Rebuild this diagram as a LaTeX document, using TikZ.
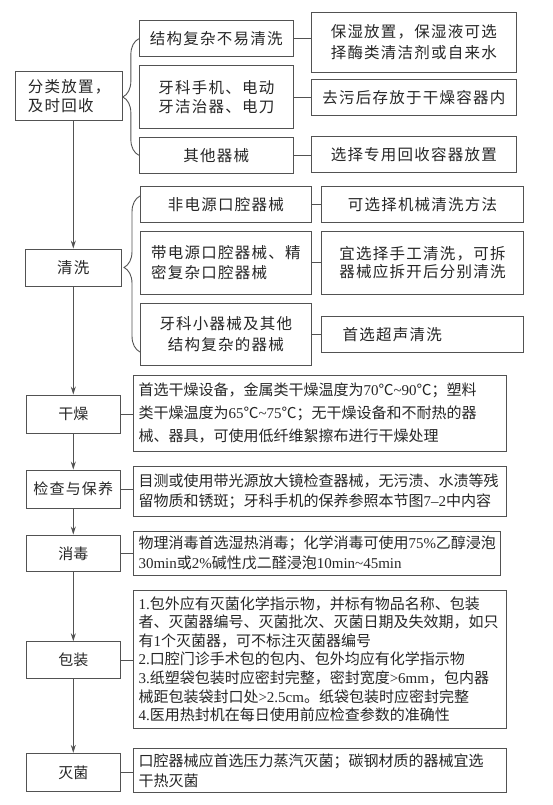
\documentclass[tikz,border=0pt]{standalone}
\usepackage{fontspec}
\setmainfont{Noto Sans CJK SC}
\newfontfamily\lat{Liberation Serif}
\newfontfamily\wide[LetterSpace=8]{Noto Sans CJK SC}
\usetikzlibrary{arrows.meta,decorations.pathreplacing}
\definecolor{linec}{gray}{0.32}
\definecolor{textc}{gray}{0.15}
\tikzset{
  bx/.style={draw=linec, line width=0.9pt, inner xsep=5.5pt, inner ysep=0pt, text=textc},
  topbox/.style={bx, font=\wide\fontsize{15.5}{19.5}\selectfont},
  lowbox/.style={bx, font=\fontsize{15}{20}\selectfont, minimum width=94pt},
  txtbox/.style={bx, align=left, font=\fontsize{15}{20}\selectfont},
  conn/.style={draw=linec, line width=0.9pt},
  arr/.style={conn, -{Stealth[length=8pt,width=5pt]}},
  brc/.style={conn, decorate, decoration={brace, amplitude=16pt}},
}
\begin{document}
\begin{tikzpicture}[x=1pt,y=-1pt]
\useasboundingbox (0,0) rectangle (553,805);

% --- section 1
\node[topbox, align=left, minimum width=107pt, minimum height=49pt, font=\wide\fontsize{15.5}{18.5}\selectfont] (A) at (69.2,96.2) {分类放置，\\及时回收};
\node[topbox, minimum width=154pt, minimum height=36pt] (A1) at (216.3,38.7) {结构复杂不易清洗};
\node[topbox, align=center, minimum width=154pt, minimum height=62.6pt, font=\wide\fontsize{15.5}{18.5}\selectfont] (A2) at (216.3,97) {牙科手机、电动\\牙洁治器、电刀};
\node[topbox, minimum width=154pt, minimum height=36pt] (A3) at (216.3,155.3) {其他器械};
\node[topbox, align=center, minimum width=204.3pt, minimum height=60pt, font=\wide\fontsize{15.5}{21.5}\selectfont] (R1) at (413.85,42.3) {保湿放置，保湿液可选\\择酶类清洁剂或自来水};
\node[topbox, minimum width=204.3pt, minimum height=35.7pt] (R2) at (413.85,97.15) {去污后存放于干燥容器内};
\node[topbox, minimum width=204.3pt, minimum height=36pt] (R3) at (413.85,154.7) {选择专用回收容器放置};

% --- section 2
\node[topbox, minimum width=96.7pt, minimum height=37pt] (B) at (73.3,267.5) {清洗};
\node[topbox, minimum width=171.7pt, minimum height=36pt] (B1) at (225.85,204.7) {非电源口腔器械};
\node[topbox, align=left, minimum width=171.7pt, minimum height=62.3pt, font=\wide\fontsize{15.5}{20}\selectfont] (B2) at (225.85,262.85) {带电源口腔器械、精\\密复杂口腔器械};
\node[topbox, align=center, minimum width=171.7pt, minimum height=61.7pt, font=\wide\fontsize{15.5}{21}\selectfont] (B3) at (225.85,334.15) {牙科小器械及其他\\结构复杂的器械};
\node[topbox, minimum width=201.6pt, minimum height=36pt] (S1) at (422.5,204.7) {可选择机械清洗方法};
\node[topbox, align=left, minimum width=201.6pt, minimum height=62.3pt, font=\wide\fontsize{15.5}{18.5}\selectfont] (S2) at (422.5,262.85) {宜选择手工清洗，可拆\\器械应拆开后分别清洗};
\node[topbox, align=left, inner xsep=21pt, text width=159.6pt, minimum height=36pt] (S3) at (422.5,334.7) {首选超声清洗};

% --- lower steps
\node[lowbox, minimum height=38.3pt] (C) at (73.3,414.15) {干燥};
\node[lowbox, minimum height=38.3pt, font=\wide\fontsize{15}{20}\selectfont] (D) at (73.3,489.15) {检查与保养};
\node[lowbox, minimum height=36.7pt] (E) at (73.3,553.35) {消毒};
\node[lowbox, minimum height=36.6pt] (F) at (73.3,660) {包装};
\node[lowbox, minimum height=38.4pt] (G) at (73.3,772.5) {灭菌};

\node[txtbox, text width=362pt, minimum height=76.7pt, font=\fontsize{15}{23}\selectfont] (C1) at (319.5,413.35)
 {首选干燥设备，金属类干燥温度为{\lat 70}℃{\lat\textasciitilde 90}℃；塑料\\
  类干燥温度为{\lat 65}℃{\lat\textasciitilde 75}℃；无干燥设备和不耐热的器\\
  械、器具，可使用低纤维絮擦布进行干燥处理};
\node[txtbox, text width=362pt, minimum height=50pt] (D1) at (319.5,491.7)
 {目测或使用带光源放大镜检查器械，无污渍、水渍等残\\
  留物质和锈斑；牙科手机的保养参照本节图{\lat 7–2}中内容};
\node[txtbox, text width=356pt, minimum height=43.3pt] (E1) at (316.5,553.35)
 {物理消毒首选湿热消毒；化学消毒可使用{\lat 75\%}乙醇浸泡\\
  {\lat 30min}或{\lat 2\%}碱性戊二醛浸泡{\lat 10min\textasciitilde 45min}};
\node[txtbox, text width=362pt, minimum height=138.3pt, font=\fontsize{15}{18.6}\selectfont] (F1) at (319.5,659.15)
 {{\lat 1.}包外应有灭菌化学指示物，并标有物品名称、包装\\
  者、灭菌器编号、灭菌批次、灭菌日期及失效期，如只\\
  有{\lat 1}个灭菌器，可不标注灭菌器编号\\
  {\lat 2.}口腔门诊手术包的包内、包外均应有化学指示物\\
  {\lat 3.}纸塑袋包装时应密封完整，密封宽度{\lat >6mm}，包内器\\
  械距包装袋封口处{\lat >2.5cm}。纸袋包装时应密封完整\\
  {\lat 4.}医用热封机在每日使用前应检查参数的准确性};
\node[txtbox, text width=362pt, minimum height=44.4pt] (G1) at (319.5,770.5)
 {口腔器械应首选压力蒸汽灭菌；碳钢材质的器械宜选\\
  干热灭菌};

% --- braces
\draw[brc] (A3.west) -- (A1.west);
\coordinate (b2t) at (140,196);
\coordinate (b2b) at (140,352);
\draw[brc, decoration={aspect=0.542}] (b2b) -- (b2t);

% --- horizontal connectors
\draw[conn] (A1.east) -- (A1.east -| R1.west);
\draw[conn] (A2.east) -- (A2.east -| R2.west);
\draw[conn] (A3.east) -- (A3.east -| R3.west);
\draw[conn] (B1.east) -- (B1.east -| S1.west);
\draw[conn] (B2.east) -- (B2.east -| S2.west);
\draw[conn] (B3.east) -- (B3.east -| S3.west);
\draw[conn] (C.east) -- (C.east -| C1.west);
\draw[conn] (D.east) -- (D.east -| D1.west);
\draw[conn] (E.east) -- (E.east -| E1.west);
\draw[conn] (F.east) -- (F.east -| F1.west);
\draw[conn] (G.east) -- (G.east -| G1.west);

% --- vertical arrows
\draw[arr] (A.south -| B.north) -- (B.north);
\draw[arr] (B.south) -- (C.north);
\draw[arr] (C.south) -- (D.north);
\draw[arr] (D.south) -- (E.north);
\draw[arr] (E.south) -- (F.north);
\draw[arr] (F.south) -- (G.north);
\end{tikzpicture}
\end{document}
